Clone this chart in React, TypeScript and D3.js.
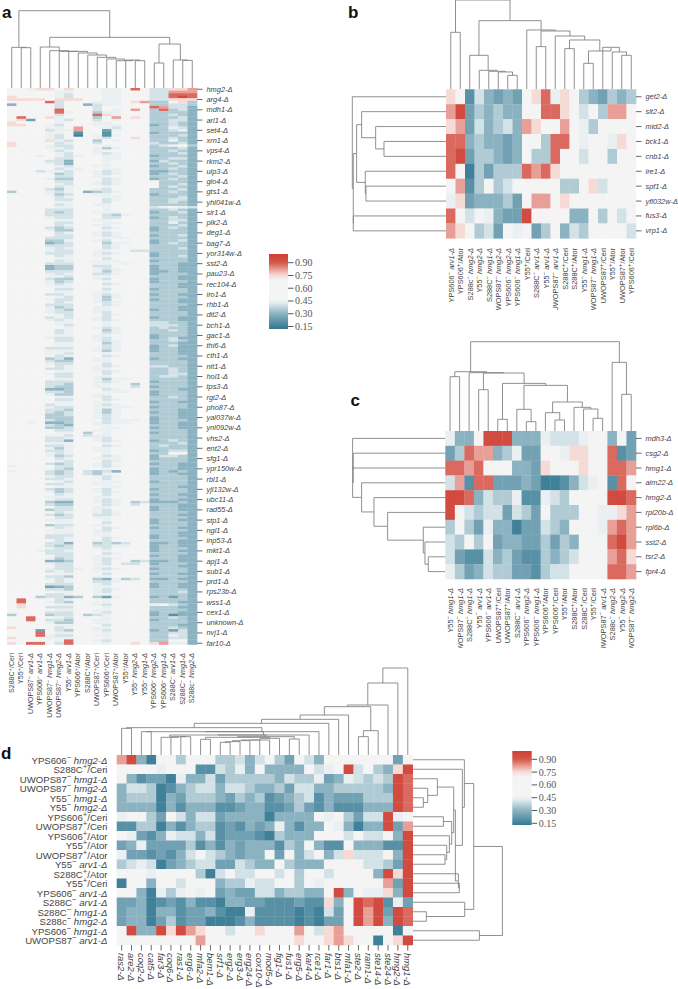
import React from "react";
import * as d3 from "d3";

type Tree = number | [number, Tree, Tree];

const levelValues: Record<string, number> = {
  "0": 0.15, "1": 0.2, "2": 0.25, "3": 0.3, "4": 0.355, "5": 0.405, "6": 0.445,
  "7": 0.6, "8": 0.75, "9": 0.82, a: 0.88, b: 0.95,
};

const colorStops = [0.125, 0.3, 0.43, 0.47, 0.7, 0.76, 0.9, 1.0];
const colorRange = ["#337892", "#8bb2c1", "#e4edf0", "#f4f4f4", "#f4f4f4", "#f6d5d0", "#d5574b", "#cd3f33"];
const barTicks = [0.9, 0.75, 0.6, 0.45, 0.3, 0.15];

// Panel a
const colsA = ["S288C+/Ceri", "Y55+/Ceri", "UWOPS87-|arv1", "YPS606-|arv1", "UWOPS87-|hmg1", "UWOPS87-|hmg2", "Y55-|arv1", "YPS606+/Ator", "S288C+/Ator", "UWOPS87+/Ceri", "YPS606+/Ceri", "UWOPS87+/Ator", "Y55+/Ator", "Y55-|hmg2", "Y55-|hmg1", "YPS606-|hmg2", "YPS606-|hmg1", "S288C-|arv1", "S288C-|hmg1", "S288c-|hmg2"];
const genesA = ["hmg2", "arg4", "mdh1", "arl1", "set4", "xrn1", "vps4", "rkm2", "ulp3", "glo4", "gts1", "yhl041w", "sir1", "plk2", "deg1", "bag7", "yor314w", "sst2", "pau23", "rec104", "iro1", "rhb1", "dit2", "bch1", "gac1", "thi6", "cth1", "nit1", "hol1", "tps3", "rgi2", "pho87", "yal037w", "ynl092w", "vhs2", "ent2", "sfg1", "ypr150w", "rbl1", "yjl132w", "ubc11", "rad55", "stp1", "ngl1", "inp53", "mkt1", "apj1", "sub1", "prd1", "rps23b", "wss1", "cex1", "unknown", "nvj1", "far10"];
const rowsA = [
"7768878777667a755889","77777667776677755999","77777657776677755aaa","87777657776677755aba","88887888776677755888",
"7777a577766678944784","37777577356677744554","777775777577777a9553","77777a7775767974a453","77777a67746677744443",
"777775777a8677744543","7a778677747978744453","78277657757677744553","87777677766777744543","88776577766677734543",
"77776679776577744653","77775669772677744563","77776671771777734443","77776570761677744453","77776577765778744543",
"77778657747677744643","87777567757777754453","87776557776777745674","77776657764677744453","77777567767777744543",
"77777657765677744453","77767656776677734443","77777557776677744553","77775537776777735443","77776537776777744543",
"77777657766777734453","77777566776677744543","77756657765677733443","77777457765677734543","77777557766777744453",
"77776447775677734543","77777557765677774443","77777657765677774453","77777567776777774543","77775467765777744453",
"47776567345677744543","77776457766777734443","77777567776677744453","77777557775677744553","77777667775777744543",
"77777567766777744443","77777667776777756765","77775557776777744543","77775457766677734453","77775557775467744443",
"77776557775577734543","77777667766777744553","77777557776677744643","77777567766777744453","77775457775677734543",
"77776447776777734443","77777567765677744443","77777557765677734453","77775557776667744443","77774467765777734453",
"77773457774667734543","77775557775677744443","77776567775677744453","77776557766775544443","77775557765677734443",
"77777567766777734453","77777667775777744443","77777567766677734443","77775557766767744433","77773447755777734433",
"77773447765677734433","77775557764677733433","77776567755677734443","77776657766777744433","77775447765777734433",
"77776457776777734443","77776567775677744433","77777667776777744433","77777557775777734443","77777667766777744443",
"77775567765677734433","77777657764677744443","77776557764777734433","77777567765677744433","77775557775677744443",
"77776457766777744433","77776547766777734433","77776557765777744443","77777657775677744443","77775657765777734433",
"77776567765677744433","77777667776777755443","77777657776777755543","77777767765677745443","77777567774677744543",
"77777567775677744443","77777667766777734443","77776557765777734533","77777557765677744543","77777667774677744433",
"77777667775677734533","77775557765677734433","77776667764677734433","77776657776777744433","77777567775677744443",
"77774537766777734433","77775447766777744443","77776557775777744443","77777567765677755443","77775567766777744543",
"77777667765677744543","77776557775777744553","77777557766777745543","77777667764667744443","77775557765677734443",
"77775547766774744443","77775447766775734443","77773347775677744433","77775547776667734443","77776447766777734443",
"77777667765777744543","77777557775677744443","77777667766777734433","77775667765677744443","77776557766667734443",
"77775547764677744433","77775457764677734433","77774457765677744433","77774447765677734433","77775447775666734443",
"77673347765667734433","77775437766777744433","77774457776677734433","77777557766777744443","77777667476777734443",
"77776657566777744443","77775567765777744443","77775537765677734543","77776667776777744453","77775567775677745443",
"77776467766777744443","77775567766777734553","77776567776777744773","77776457775677735543","77777567766677734443",
"77777657775677744443","77775457765777734433","67777557765677744433","77777547776777734433","67775457545377734343",
"77775457546777734433","77776557765677744443","77775567775777744443","77777657766677734443","77775567766777744443",
"77777667776677744433","77775457765777734443","77776457765677744443","77777567775777734433","77776667766777744443",
"77776557765677734433","77774337765674533343","77775447775675744433","77777557766777734433","77774557765777734433",
"77777567765677744443","77775457755677744433","77777557766777744443","77776667776777734433","77777667775777734443",
"77774557766777744443","77777567775677734433","77776667765777744443","77777667766777744433","77775557766777734433",
"77775567775677734443","77777567765777744433","77775537745457733433","77775457755667734433","77776557765777734443",
"77765567776777734433","77775557775677744443","77777557766777734433","77776457765677744433","77773347765774533433",
"77776557765755734443","77777557766777744433","77776556765677734443","77775657766777744443","77777667775777734433",
"77775547766777744443","77776567743645733433","77777567755677744443","77775557765777734433","77772347766777734433",
"77775547765677744443","77777667765777744453","77775567766777744443","77745534742677734243","7a777567776777744443",
"7a776547766777744433","78777667765777767543","78775557776777744433","77777667766777744443","77775557765777734433",
"47774557456777734133","77a77657776777744543","77a75547766777734443","77776447766777744443","77777667775777744433",
"87777567766777744543","77727547765777734253","777a7667776777744553","777a6557766777744653","87776667776777744553",
"777776a7765777744773","87aa75a7776778789663",
];
const treeTopA: Tree = [232, [122, 0, [121, 1, 2]], [152,
  [123, 3, [112, 4, [110, 5, [110, 6, [105, 7, [99, 8, [92, 9, [87, 10, [82, 11, [84, 12, [82, 13, 14]]]]]]]]]]],
  [132, [75, 15, 16], [84, 17, [83, 18, 19]]]]];

// Panel b
const colsB = ["YPS606-|arv1", "YPS606+/Ator", "S288c-|hmg2", "Y55-|hmg2", "S288C-|hmg1", "UWOPS87-|hmg2", "YPS606-|hmg2", "YPS606-|hmg1", "Y55+/Ceri", "S288C-|arv1", "Y55-|arv1", "UWOPS87-|arv1", "S288C+/Ceri", "S288C+/Ator", "Y55-|hmg1", "UWOPS87-|hmg1", "UWOPS87+/Ceri", "Y55+/Ator", "UWOPS87+/Ator", "YPS606+/Ceri"];
const genesB = ["get2", "slt2", "mid2", "bck1", "cnb1", "ire1", "spf1", "yfl032w", "fus3", "vrp1"];
const rowsB = [
"8715323278a687432434",
"9b24343377aa87574997",
"89253453987797647777",
"aa343323774aa7677687",
"ab244323744a77577477",
"a7042444a9a877777777",
"79147457777744785777",
"68233342799787777777",
"a7576322b77773374757",
"98745276724735477775",
];
const treeTopB: Tree = [268, [171, 0, 1], [206,
  [102, 2, [57, 3, [54, 4, [52, 5, [42, 6, 7]]]]],
  [178, 8, [175, [128, 9, 10], [160, 11, [148, [122, 12, 13], [115, [78, 14, 15], [126, 16, [112, 17, [102, 18, 19]]]]]]]]]];
const treeLeftB: Tree = [281, 0, [278, [268, [253, 1, [211, 2, [186, 3, 4]]], [242, 5, [240, 6, 7]]], [278, 8, 9]]];

// Panel c
const colsC = ["Y55-|hmg1", "UWOPS87-|hmg1", "S288C-|hmg1", "Y55-|arv1", "YPS606-|arv1", "UWOPS87+/Ceri", "UWOPS87+/Ator", "S288C-|arv1", "YPS606-|hmg2", "YPS606-|hmg1", "YPS606+/Ator", "YPS606+/Ceri", "Y55+/Ator", "S288C+/Ator", "S288C+/Ceri", "Y55+/Ceri", "UWOPS87-|arv1", "S288c-|hmg2", "Y55-|hmg2", "UWOPS87-|hmg2"];
const genesC = ["mdh3", "csg2", "hmg1", "aim22", "hmg2", "rpl20b", "rpl6b", "sst2", "tsr2", "fpr4"];
const rowsC = [
"6337bbb3336555677372",
"24a99346227768877a12",
"aa9a7773328777877aa9",
"591aa2223200135671a7",
"bba35446116547777bba",
"b7545525427444776689",
"474263302254377769a9",
"54747233224243777ab9",
"521153421143457779a8",
"64235442214557777aa9",
];
const treeTopC: Tree = [268,
  [178, [163, 0, 1], [175, 2, [174, [124, 3, 4], [143, [35, 5, 6], [137, [65, 7, [28, 8, 9]], [87, [55, 10, [33, 11, 12]], [71, 13, [66, 14, [38, 15, 16]]]]]]]]],
  [206, 17, [110, 18, 19]]];
const treeLeftC: Tree = [278, 0, [276, 1, [278, 2, [251, 3, [214, 4, [173, 5, [66, 6, [61, 7, [51, 8, 9]]]]]]]]];

// Panel d
const rowLabelsD = ["YPS606-|hmg2", "S288C+/Ceri", "UWOPS87-|hmg1", "UWOPS87-|hmg2", "Y55-|hmg1", "Y55-|hmg2", "YPS606+/Ceri", "UWOPS87+/Ceri", "YPS606+/Ator", "Y55+/Ator", "UWOPS87+/Ator", "Y55-|arv1", "S288C+/Ator", "Y55+/Ceri", "YPS606-|arv1", "S288C-|arv1", "S288C-|hmg1", "S288c-|hmg2", "YPS606-|hmg1", "UWOPS87-|arv1"];
const genesD = ["ras2", "are2", "coq2", "cat5", "far3", "coq6", "ras1", "erg6", "mfa2", "bem1", "srf1", "erg2", "erg3", "erg24", "cox10", "mod5", "fig1", "fus1", "erg5", "kar4", "rce1", "far1", "bts1", "mfa1", "ste2", "ram1", "ste14", "ste24", "hmg2", "hmg1"];
const rowsD = [
"9b307747774453574275" + "3777777727",
"77776777115463733337" + "567b57438b",
"73122063352444443544" + "62365454ba",
"35540134553554334255" + "33444443ba",
"34440324443243412345" + "13222444ba",
"33330313331123311242" + "13111333ba",
"67742753552333303333" + "7674255b67",
"11440313441213236313" + "3763033b29",
"76213655351222104333" + "777575573b",
"23622224131323331437" + "311733311b",
"62212135754323372735" + "735855573b",
"45650234552254337433" + "377775542b",
"77767777405755775747" + "7577773b8b",
"07737757773446557747" + "677777792b",
"77306467672322553443" + "37b376683b",
"22301213110332211121" + "1837bab162",
"23303312231006111101" + "0527b9b2ba",
"23302412200013111101" + "0227b9b3ba",
"7b33b8b9877577877797" + "5897777707",
"77777777977777777787" + "789877078b",
];
const treeTopD: Tree = [261, [216, [150, [145, [120, [107, [95, [82, [80, 0, 1],
  [70, [70, [70, 2, 3], [60, [60, [53, 4, [55, 5, [55, 6, 7]]],
    [55, [53, [47, 8, 9], [50, [45, [45, [43, [40, [38, 10, 11], 12], 13], 14], 15], 16]], [48, 17, 18]]], 19]], 20]],
  21], 22], 23], [73, [55, 24, 25], 26]], 27], 28], 29];
const treeRightD: Tree = [269,
  [183, [155, 0, [149, 1, [128,
    [123, [74, 2, [45, 3, [32, 4, 5]]], [117, [92, 6, 7], [110, 8, [102, 9, [97, 10, 11]]]]],
    [137, 12, [140, 13, 14]]]]],
    [156, 15, [41, 16, 17]]],
  [200, 18, 19]];

const color = d3.scaleLinear<string>().domain(colorStops).range(colorRange);
const toValues = (rows: string[]) => rows.map((r) => Array.from(r).map((c) => levelValues[c] ?? 0.6));
const textColor = "#444";
const sans = "'Liberation Sans', Arial, sans-serif";

function treePath(tree: Tree, leaf: (i: number) => number, h: (v: number) => number, side: boolean): string {
  const p = d3.path();
  const pt = (a: number, b: number) => (side ? [b, a] : [a, b]) as [number, number];
  const walk = (t: Tree): { pos: number; ht: number } => {
    if (typeof t === "number") return { pos: leaf(t), ht: h(0) };
    const l = walk(t[1]);
    const r = walk(t[2]);
    const y = h(t[0]);
    p.moveTo(...pt(l.pos, l.ht));
    p.lineTo(...pt(l.pos, y));
    p.lineTo(...pt(r.pos, y));
    p.lineTo(...pt(r.pos, r.ht));
    return { pos: (l.pos + r.pos) / 2, ht: y };
  };
  walk(tree);
  return p.toString();
}

function Dendro(props: { tree: Tree; leaf: (i: number) => number; h: (v: number) => number; side?: boolean }) {
  return <path d={treePath(props.tree, props.leaf, props.h, !!props.side)} fill="none" stroke="#7d7d7d" strokeWidth={0.85} />;
}

function Heat(props: { rows: string[]; x: d3.ScaleBand<number>; y: d3.ScaleBand<number>; soft?: boolean }) {
  const vals = toValues(props.rows);
  return (
    <g filter={props.soft ? "url(#soft)" : "url(#soft2)"}>
      {vals.map((row, r) =>
        row.map((v, c) => (
          <rect key={r + "-" + c} x={props.x(c)} y={props.y(r)} width={props.x.bandwidth() + 0.3} height={props.y.bandwidth() + 0.3} fill={color(v)} />
        ))
      )}
    </g>
  );
}

function Strain(props: { label: string; fs: number; transform?: string; anchor?: string; x?: number; y?: number }) {
  const m = props.label.match(/^(.+?)([+-])(?:\|(.+)|(\/.+))$/)!;
  const { fs } = props;
  return (
    <text x={props.x} y={props.y} transform={props.transform} textAnchor={props.anchor} fontSize={fs} fontFamily={sans} fill={textColor} dominantBaseline="central">
      <tspan>{m[1]}</tspan>
      <tspan dy={-fs * 0.3} fontSize={fs * 0.8}>{m[2] === "-" ? "\u2212" : "+"}</tspan>
      {m[3] ? (
        <tspan dy={fs * 0.3} fontStyle="italic">{"\u00a0" + m[3] + "-\u0394"}</tspan>
      ) : (
        <tspan dy={fs * 0.3}>{m[4]}</tspan>
      )}
    </text>
  );
}

function ColBar(props: { id: string; x0: number; x1: number; y15: number; y90: number; top: number; bottom: number; fs: number }) {
  const { id, x0, x1, y15, y90, top, bottom } = props;
  const y = d3.scaleLinear().domain([0.15, 0.9]).range([y15, y90]);
  const vMax = y.invert(top);
  const vMin = y.invert(bottom);
  const stops = d3.range(0, 41).map((i) => i / 40);
  return (
    <g>
      <defs>
        <linearGradient id={id} x1="0" y1="1" x2="0" y2="0">
          {stops.map((t) => (
            <stop key={t} offset={t} stopColor={color(vMin + (vMax - vMin) * t)} />
          ))}
        </linearGradient>
      </defs>
      <rect x={x0} y={top} width={x1 - x0} height={bottom - top} fill={`url(#${id})`} />
      {barTicks.map((t) => (
        <g key={t}>
          <line x1={x1} x2={x1 + 5.5} y1={y(t)} y2={y(t)} stroke="#444" strokeWidth={0.9} />
          <text x={x1 + 7} y={y(t)} dominantBaseline="central" fontFamily="'Liberation Serif', serif" fontSize={props.fs} fill="#555">{t.toFixed(2)}</text>
        </g>
      ))}
    </g>
  );
}

function band(n: number, a: number, b: number) {
  return d3.scaleBand<number>().domain(d3.range(n)).range([a, b]);
}

export default function App() {
  const xA = band(20, 7, 197), yA = band(rowsA.length, 88, 644.5);
  const xB = band(20, 446, 636), yB = band(10, 89.3, 238.3);
  const xC = band(20, 445.3, 636), yC = band(10, 431, 579);
  const xD = band(30, 116.7, 412.7), yD = band(20, 755, 945);
  const cx = (s: d3.ScaleBand<number>) => (i: number) => (s(i) as number) + s.bandwidth() / 2;

  const hTopA = d3.scaleLinear().domain([0, 232]).range([88, 10.7]);
  const hTopB = d3.scaleLinear().domain([0, 268]).range([89.3, 0]);
  const hLeftB = d3.scaleLinear().domain([0, 281]).range([446, 352.3]);
  const hTopC = d3.scaleLinear().domain([0, 268]).range([431, 341.7]);
  const hLeftC = d3.scaleLinear().domain([0, 278]).range([445.3, 352.6]);
  const hTopD = d3.scaleLinear().domain([0, 261]).range([755, 668]);
  const hRightD = d3.scaleLinear().domain([0, 269]).range([412.7, 502.4]);

  const letter = (t: string, x: number, y: number) => (
    <text x={x} y={y} fontFamily="'Liberation Sans', sans-serif" fontWeight="bold" fontSize={17} fill="#111">{t}</text>
  );

  const rowGenes = (genes: string[], y: (i: number) => number, x1: number, fs: number) =>
    genes.map((g, i) => (
      <g key={g + i}>
        <line x1={x1} x2={x1 + 5.5} y1={y(i)} y2={y(i)} stroke="#444" strokeWidth={0.8} />
        <text x={x1 + 9.5} y={y(i)} dominantBaseline="central" fontFamily={sans} fontStyle="italic" fontSize={fs} fill={textColor}>{g + "-\u0394"}</text>
      </g>
    ));

  const colStrains = (labels: string[], x: (i: number) => number, yEnd: number, fs: number) =>
    labels.map((l, i) => (
      <Strain key={l + i} label={l} fs={fs} anchor="end" transform={`translate(${x(i)},${yEnd}) rotate(-90)`} />
    ));

  return (
    <svg width={678} height={989} style={{ position: "absolute", left: 0, top: 0, background: "#fff" }}>
      <defs>
        <filter id="soft" x="-2%" y="-2%" width="104%" height="104%"><feGaussianBlur stdDeviation="0.45" /></filter>
        <filter id="soft2" x="-2%" y="-2%" width="104%" height="104%"><feGaussianBlur stdDeviation="0.3" /></filter>
        <clipPath id="clipB"><rect x={440} y={240} width={200} height={70} /></clipPath>
        <clipPath id="clipC"><rect x={440} y={580} width={200} height={68} /></clipPath>
      </defs>

      {letter("a", 2, 18)}
      <Dendro tree={treeTopA} leaf={cx(xA)} h={hTopA} />
      <Heat rows={rowsA} x={xA} y={yA} soft />
      {rowGenes(genesA, (i) => cx(yA)(i * 4), 197, 7.4)}
      {colStrains(colsA, cx(xA), 653, 7.1)}
      <ColBar id="barA" x0={269} x1={288} y15={326.5} y90={262.7} top={254} bottom={329} fs={10} />

      {letter("b", 348, 18)}
      <Dendro tree={treeTopB} leaf={cx(xB)} h={hTopB} />
      <Dendro tree={treeLeftB} leaf={cx(yB)} h={hLeftB} side />
      <Heat rows={rowsB} x={xB} y={yB} />
      {rowGenes(genesB, cx(yB), 636, 7.4)}
      <g clipPath="url(#clipB)">{colStrains(colsB, cx(xB), 248, 7.4)}</g>

      {letter("c", 350.5, 406)}
      <Dendro tree={treeTopC} leaf={cx(xC)} h={hTopC} />
      <Dendro tree={treeLeftC} leaf={cx(yC)} h={hLeftC} side />
      <Heat rows={rowsC} x={xC} y={yC} />
      {rowGenes(genesC, cx(yC), 636, 7.4)}
      <g clipPath="url(#clipC)">{colStrains(colsC, cx(xC), 588, 7.4)}</g>

      {letter("d", 1, 759)}
      <Dendro tree={treeTopD} leaf={cx(xD)} h={hTopD} />
      <Dendro tree={treeRightD} leaf={cx(yD)} h={hRightD} side />
      <Heat rows={rowsD} x={xD} y={yD} />
      {rowLabelsD.map((l, i) => (
        <Strain key={l + i} label={l} fs={9.6} anchor="end" x={107.5} y={cx(yD)(i)} />
      ))}
      {genesD.map((g, i) => (
        <g key={g}>
          <line x1={cx(xD)(i)} x2={cx(xD)(i)} y1={945} y2={950.5} stroke="#444" strokeWidth={0.8} />
          <text transform={`translate(${cx(xD)(i)},953) rotate(90)`} dominantBaseline="central" fontFamily={sans} fontStyle="italic" fontSize={9.4} fill={textColor}>{g + "-\u0394"}</text>
        </g>
      ))}
      <ColBar id="barD" x0={512.3} x1={531.7} y15={823.3} y90={759.3} top={751} bottom={825} fs={10} />
    </svg>
  );
}
